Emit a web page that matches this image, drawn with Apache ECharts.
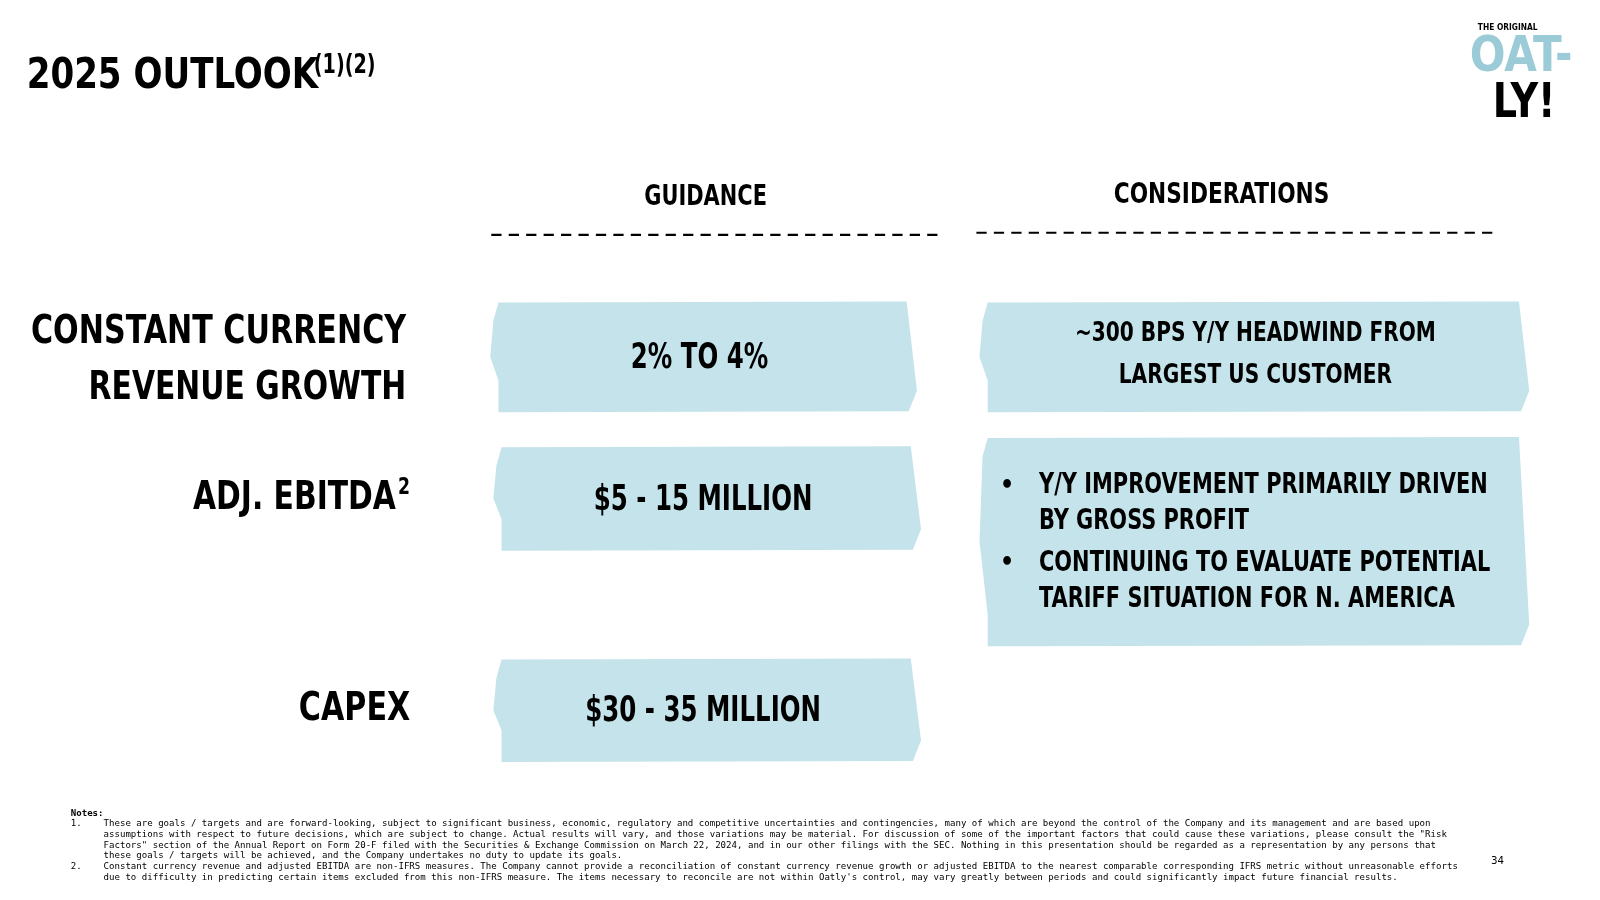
<!DOCTYPE html>
<html><head><meta charset="utf-8">
<script src="https://cdn.jsdelivr.net/npm/echarts@6/dist/echarts.min.js"></script>
<style>html,body{margin:0;padding:0;background:#fff}#c{width:1600px;height:900px}</style>
</head><body><div id="c"></div>
<script>
const title = "2025 OUTLOOK";
const titleSup = "(1)(2)";
const columnHeaders = ["GUIDANCE", "CONSIDERATIONS"];
const rowLabels = [["CONSTANT CURRENCY", "REVENUE GROWTH"], ["ADJ. EBITDA"], ["CAPEX"]];
const guidance = ["2% TO 4%", "$5 - 15 MILLION", "$30 - 35 MILLION"];
const considerations = [
  ["~300 BPS Y/Y HEADWIND FROM", "LARGEST US CUSTOMER"],
  ["Y/Y IMPROVEMENT PRIMARILY DRIVEN", "BY GROSS PROFIT", "CONTINUING TO EVALUATE POTENTIAL", "TARIFF SITUATION FOR N. AMERICA"]
];
const notes = [
  "Notes:",
  "1.    These are goals / targets and are forward-looking, subject to significant business, economic, regulatory and competitive uncertainties and contingencies, many of which are beyond the control of the Company and its management and are based upon",
  "      assumptions with respect to future decisions, which are subject to change. Actual results will vary, and those variations may be material. For discussion of some of the important factors that could cause these variations, please consult the \"Risk",
  "      Factors\" section of the Annual Report on Form 20-F filed with the Securities & Exchange Commission on March 22, 2024, and in our other filings with the SEC. Nothing in this presentation should be regarded as a representation by any persons that",
  "      these goals / targets will be achieved, and the Company undertakes no duty to update its goals.",
  "2.    Constant currency revenue and adjusted EBITDA are non-IFRS measures. The Company cannot provide a reconciliation of constant currency revenue growth or adjusted EBITDA to the nearest comparable corresponding IFRS metric without unreasonable efforts",
  "      due to difficulty in predicting certain items excluded from this non-IFRS measure. The items necessary to reconcile are not within Oatly's control, may vary greatly between periods and could significantly impact future financial results."
];
const pageNo = "34";

const F = "'DejaVu Sans Condensed','DejaVu Sans',sans-serif";
const BLUE = "#c4e3ea";
function box(x1, y1, x2, y2) {
  return { type: 'polygon', shape: { points: [
    [x1 + 8, y1], [x2 - 10, y1 - 1], [x2, y2 - 20], [x2 - 8, y2], [x1 + 8, y2 + 1], [x1 + 8, y2 - 30], [x1, (y1 + y2) / 2], [x1 + 3, y1 + 18]
  ] }, style: { fill: BLUE } };
}
function txt(x, y, t, size, align, sx, color) {
  return { type: 'text', x: x, y: y, scaleX: sx || 1, style: { x: 0, y: 0, text: t, fill: color || '#000', font: 'bold ' + size + 'px ' + F, align: align || 'left', verticalAlign: 'middle' } };
}
const g = [];
g.push(txt(26, 75, title, 42, 'left', 0.88));
g.push(txt(306, 64, titleSup, 26, 'left', 0.8));
// logo
g.push(txt(1470, 27, "THE ORIGINAL", 9, 'center', 0.9));
g.push(txt(1483, 57, "OAT-", 48, 'center', 0.95, '#9ccbd8'));
g.push(txt(1486, 102, "LY!", 46, 'center', 0.9));
// headers
g.push(txt(688, 193, columnHeaders[0], 27, 'center', 0.84));
g.push(txt(1191, 191, columnHeaders[1], 27, 'center', 0.87));
g.push({ type: 'line', shape: { x1: 479, y1: 229, x2: 918, y2: 229 }, style: { stroke: '#000', lineWidth: 2, lineDash: [10, 7] } });
g.push({ type: 'line', shape: { x1: 952, y1: 227, x2: 1460, y2: 227 }, style: { stroke: '#000', lineWidth: 2, lineDash: [10, 7] } });
// boxes
const gBoxes = [[478, 295, 894, 401], [481, 436, 898, 536], [481, 643, 898, 742]];
gBoxes.forEach((b, i) => {
  g.push(box(b[0], b[1], b[2], b[3]));
  g.push(txt((b[0] + b[2]) / 2 - 4, (b[1] + b[3]) / 2 + 2, guidance[i], 34, 'center', 0.78));
});
g.push(box(955, 295, 1491, 401));
g.push(box(955, 427, 1491, 629));
g.push(txt(1224, 326, considerations[0][0], 26, 'center', 0.84));
g.push(txt(1224, 367, considerations[0][1], 26, 'center', 0.84));
[474, 509, 550, 585].forEach((y, i) => g.push(txt(1013, y, considerations[1][i], 27, 'left', 0.84)));
g.push(txt(982, 474, "•", 24, 'center'));
g.push(txt(982, 550, "•", 24, 'center'));
// row labels
g.push(txt(396, 325, rowLabels[0][0], 38, 'right', 0.86));
g.push(txt(396, 379, rowLabels[0][1], 38, 'right', 0.85));
g.push(txt(386, 486, rowLabels[1][0], 38, 'right', 0.85));
g.push(txt(388, 476, "2", 22, 'left', 0.85));
g.push(txt(400, 692, rowLabels[2][0], 38, 'right', 0.86));
// notes
notes.forEach((n, i) => g.push({ type: 'text', x: 69, y: 793 + i * 10.4, style: { text: n, fill: '#000', font: (i === 0 ? 'bold ' : '') + '8.85px "DejaVu Sans Mono",monospace', verticalAlign: 'middle' } }));
g.push({ type: 'text', x: 1460, y: 840, style: { text: pageNo, fill: '#000', font: '10px "DejaVu Sans",sans-serif', align: 'center', verticalAlign: 'middle' } });

const chart = echarts.init(document.getElementById('c'));
chart.setOption({ backgroundColor: '#fff', animation: false, graphic: [{ type: 'group', scaleX: 1600 / 1560, scaleY: 1600 / 1560, children: g }] });
</script></body></html>
